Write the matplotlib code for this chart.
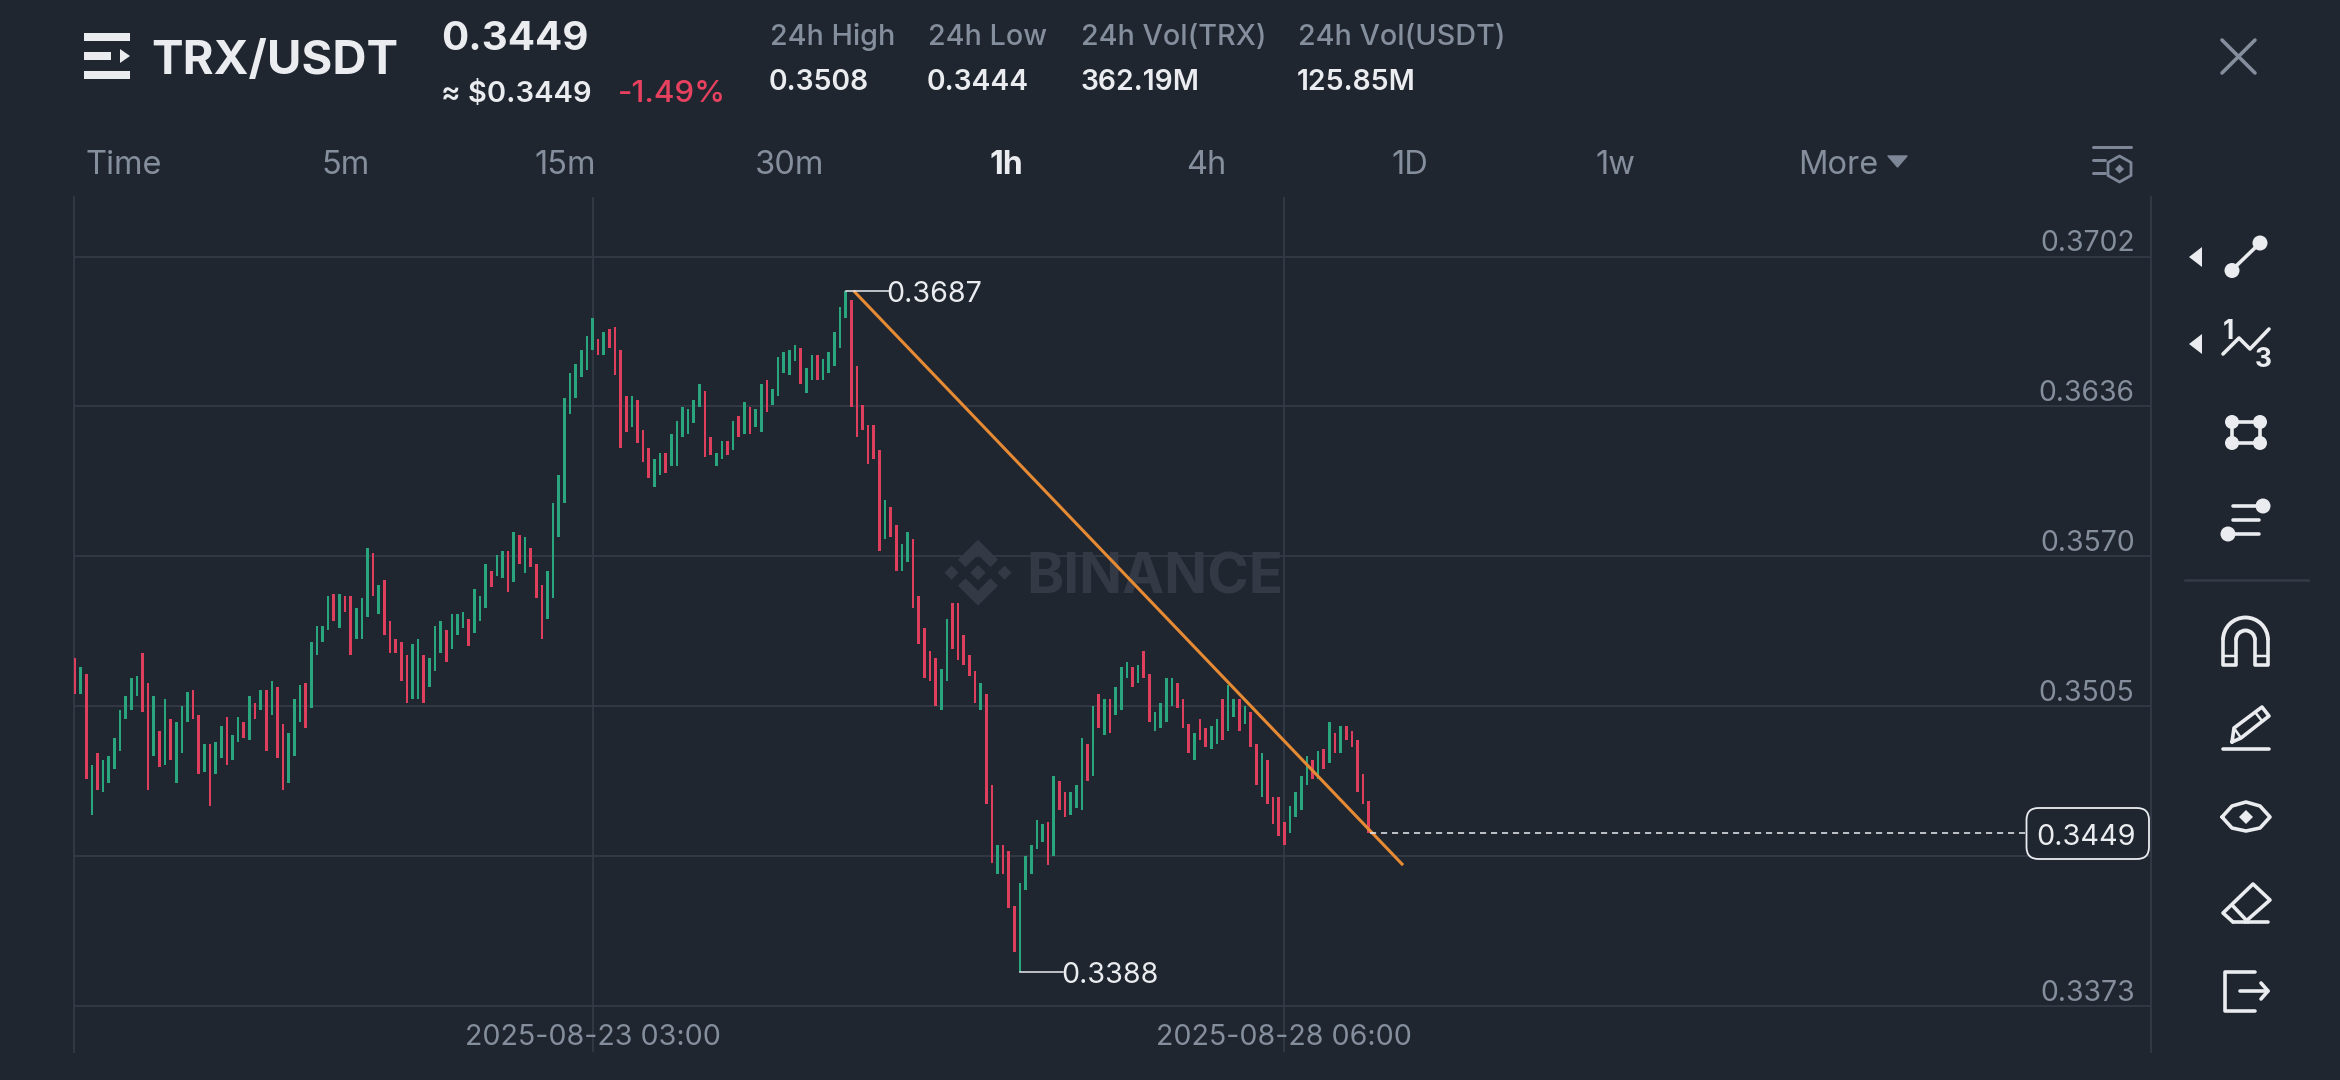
import matplotlib
matplotlib.use("Agg")
import matplotlib.pyplot as plt
from matplotlib.patches import Polygon, Circle, FancyBboxPatch, Rectangle, Arc

plt.rcParams['font.family'] = ['Inter', 'DejaVu Sans']

# ---- 1h TRX/USDT candles: high, low and direction (u = up, d = down) ----
highs = [
    0.3526,0.3522,0.3519,0.3479,0.3484,0.3481,0.3483,0.3491,0.3503,0.3509,
    0.3517,0.3518,0.3528,0.3515,0.3509,0.3494,0.3508,0.3499,0.3498,0.3505,
    0.3511,0.3512,0.3501,0.3488,0.3488,0.3489,0.3496,0.3500,0.3492,0.3500,
    0.3498,0.3509,0.3506,0.3512,0.3512,0.3516,0.3513,0.3497,0.3493,0.3508,
    0.3514,0.3515,0.3533,0.3540,0.3540,0.3553,0.3554,0.3554,0.3553,0.3553,
    0.3548,0.3552,0.3574,0.3572,0.3558,0.3560,0.3542,0.3534,0.3533,0.3527,
    0.3532,0.3534,0.3527,0.3526,0.3540,0.3542,0.3538,0.3545,0.3545,0.3546,
    0.3543,0.3556,0.3553,0.3567,0.3564,0.3571,0.3573,0.3573,0.3581,0.3580,
    0.3579,0.3574,0.3567,0.3558,0.3564,0.3594,0.3606,0.3640,0.3651,0.3655,
    0.3661,0.3667,0.3675,0.3666,0.3669,0.3670,0.3671,0.3661,0.3641,0.3641,
    0.3639,0.3626,0.3618,0.3613,0.3616,0.3616,0.3624,0.3630,0.3636,0.3635,
    0.3639,0.3646,0.3643,0.3623,0.3616,0.3621,0.3621,0.3630,0.3632,0.3638,
    0.3636,0.3635,0.3646,0.3648,0.3644,0.3658,0.3660,0.3661,0.3663,0.3662,
    0.3653,0.3659,0.3659,0.3657,0.3660,0.3669,0.3680,0.3687,0.3683,0.3654,
    0.3637,0.3628,0.3628,0.3617,0.3595,0.3592,0.3584,0.3576,0.3581,0.3578,
    0.3553,0.3539,0.3529,0.3526,0.3521,0.3543,0.3550,0.3550,0.3536,0.3527,
    0.3520,0.3515,0.3510,0.3470,0.3444,0.3444,0.3441,0.3417,0.3427,0.3439,
    0.3444,0.3455,0.3453,0.3454,0.3474,0.3472,0.3467,0.3467,0.3470,0.3491,
    0.3488,0.3505,0.3510,0.3508,0.3508,0.3513,0.3522,0.3524,0.3522,0.3523,
    0.3529,0.3519,0.3502,0.3506,0.3517,0.3517,0.3515,0.3508,0.3497,0.3493,
    0.3499,0.3495,0.3496,0.3499,0.3508,0.3514,0.3508,0.3508,0.3505,0.3502,
    0.3488,0.3484,0.3481,0.3465,0.3465,0.3454,0.3461,0.3467,0.3474,0.3483,
    0.3481,0.3485,0.3486,0.3498,0.3493,0.3496,0.3496,0.3494,0.3490,0.3475,
    0.3463,
]
lows = [
    0.3510,0.3510,0.3473,0.3457,0.3468,0.3467,0.3471,0.3477,0.3485,0.3499,
    0.3503,0.3509,0.3502,0.3468,0.3483,0.3478,0.3479,0.3481,0.3471,0.3484,
    0.3498,0.3499,0.3475,0.3476,0.3461,0.3475,0.3482,0.3479,0.3481,0.3489,
    0.3491,0.3490,0.3499,0.3503,0.3485,0.3501,0.3482,0.3468,0.3471,0.3483,
    0.3498,0.3495,0.3504,0.3527,0.3533,0.3538,0.3542,0.3539,0.3546,0.3527,
    0.3534,0.3534,0.3544,0.3553,0.3545,0.3536,0.3528,0.3528,0.3516,0.3506,
    0.3508,0.3508,0.3506,0.3513,0.3520,0.3528,0.3524,0.3530,0.3536,0.3539,
    0.3531,0.3537,0.3542,0.3548,0.3557,0.3562,0.3561,0.3555,0.3559,0.3567,
    0.3563,0.3566,0.3552,0.3534,0.3543,0.3552,0.3579,0.3594,0.3633,0.3640,
    0.3649,0.3652,0.3661,0.3659,0.3659,0.3662,0.3650,0.3618,0.3625,0.3627,
    0.3620,0.3612,0.3605,0.3601,0.3606,0.3607,0.3610,0.3610,0.3623,0.3624,
    0.3629,0.3636,0.3614,0.3615,0.3610,0.3613,0.3615,0.3617,0.3623,0.3624,
    0.3624,0.3627,0.3625,0.3634,0.3637,0.3641,0.3651,0.3650,0.3656,0.3646,
    0.3642,0.3648,0.3648,0.3648,0.3651,0.3654,0.3662,0.3675,0.3636,0.3623,
    0.3626,0.3611,0.3613,0.3573,0.3578,0.3579,0.3564,0.3564,0.3568,0.3548,
    0.3532,0.3517,0.3516,0.3505,0.3503,0.3516,0.3530,0.3525,0.3523,0.3518,
    0.3506,0.3503,0.3462,0.3436,0.3431,0.3431,0.3416,0.3397,0.3388,0.3424,
    0.3431,0.3442,0.3445,0.3435,0.3439,0.3459,0.3456,0.3457,0.3460,0.3459,
    0.3472,0.3474,0.3495,0.3492,0.3493,0.3501,0.3503,0.3517,0.3513,0.3515,
    0.3517,0.3498,0.3494,0.3495,0.3498,0.3505,0.3504,0.3495,0.3484,0.3481,
    0.3490,0.3487,0.3486,0.3488,0.3490,0.3494,0.3500,0.3494,0.3497,0.3487,
    0.3470,0.3465,0.3462,0.3453,0.3448,0.3444,0.3449,0.3456,0.3459,0.3470,
    0.3473,0.3473,0.3477,0.3480,0.3484,0.3484,0.3490,0.3487,0.3467,0.3462,
    0.3449,
]
directions = (
    "dududuuuuu" "uuddududuu" "udduduuduu" "dudududduu" "uduuuududd"
    "uuududdddd" "uuduuuduuu" "duuuduudud" "uddduuuuuu" "uuududdddu"
    "ddduuduuuu" "uudduududu" "duuduuuuud" "uuduuuuudd" "ddddudduud"
    "dddduudddd" "dudduddduu" "uuududduuu" "dududuuudu" "dduuuudddu"
    "dduuduudud" "dudddduuuu" "dudududddd" "d"
)

# Price scale and time axis; the 0.3439 level sits behind the last-price tag
price_ticks = [0.37020, 0.36362, 0.35704, 0.35046, 0.34388, 0.33730]
price_tick_labels = ["0.3702", "0.3636", "0.3570", "0.3505", "", "0.3373"]
time_ticks = [92, 215]
time_tick_labels = ["2025-08-23 03:00", "2025-08-28 06:00"]

# Drawn trend line (candle position, price)
trend_x = [138.4, 236.1]
trend_y = [0.36870, 0.34350]
last_price = 0.3449

# Header figures
pair = "TRX/USDT"
change_text = "-1.49%"
stat_names = ["24h High", "24h Low", "24h Vol(TRX)", "24h Vol(USDT)"]
stat_values = ["0.3508", "0.3444", "362.19M", "125.85M"]
intervals = ["Time", "5m", "15m", "30m", "1h", "4h", "1D", "1w"]

BG = "#1F2630"
GRID = "#343B47"
MUTED = "#848E9C"
WHITE = "#EAECEF"
UP = "#2AA67F"
DOWN = "#DE3F5D"
ORANGE = "#E68A33"
MARK = "#333A46"

fig = plt.figure(figsize=(23.4, 10.8), dpi=100, facecolor=BG)


def px_axes(zorder):
    """Full-figure axes addressed in pixels, origin at the top left."""
    a = fig.add_axes([0, 0, 1, 1], zorder=zorder)
    a.set_xlim(0, 2340)
    a.set_ylim(1080, 0)
    a.axis("off")
    return a


back = px_axes(0)
ui = px_axes(2)

# Watermark behind the candles
cx, cy = 978, 572.7
for dx, half in ((-26.5, 7), (0, 7.7), (26.5, 7)):
    back.add_patch(Polygon([(cx + dx - half, cy), (cx + dx, cy - half), (cx + dx + half, cy), (cx + dx, cy + half)],
                           fc=MARK, ec="none"))
for s in (-1, 1):
    back.add_patch(Polygon([(cx, cy + s * 33), (cx + 20, cy + s * 13), (cx + 12.5, cy + s * 5.5), (cx, cy + s * 18),
                            (cx - 12.5, cy + s * 5.5), (cx - 20, cy + s * 13)], fc=MARK, ec="none"))
back.text(1026, 593, "BINANCE", color=MARK, fontsize=40.5, fontweight="bold", va="baseline", ha="left")

# Chart area
L, R, T, B = 73.5, 2150.5, 197, 1052
ax = fig.add_axes([L / 2340, 1 - B / 1080, (R - L) / 2340, (B - T) / 1080], zorder=1)
ax.patch.set_alpha(0)
STEP = 5.625
ax.set_xlim((L - 75) / STEP, (R - 75) / STEP)
PX_PER_PRICE = 150 / 0.00658
ax.set_ylim(0.3702 - (B - 256.5) / PX_PER_PRICE, 0.3702 + (256.5 - T) / PX_PER_PRICE)

for side in ("top", "bottom"):
    ax.spines[side].set_visible(False)
for side in ("left", "right"):
    ax.spines[side].set_color(GRID)
    ax.spines[side].set_linewidth(1.3)
ax.set_yticks(price_ticks)
ax.set_xticks(time_ticks)
ax.set_xticklabels([])
ax.set_yticklabels([])
ax.tick_params(length=0)
ax.grid(True, color=GRID, linewidth=1.3)
ax.set_axisbelow(True)

# Candles
idx = list(range(len(highs)))
colors = [UP if d == "u" else DOWN for d in directions]
ax.bar(idx, [h - l for h, l in zip(highs, lows)], bottom=lows, width=2.6 / STEP, color=colors, linewidth=0, zorder=3)

# Price and time labels
for tick, label in zip(price_ticks, price_tick_labels):
    if label:
        ax.annotate(label, xy=(1, tick), xycoords=("axes fraction", "data"), xytext=(-11.5, 4.0),
                    textcoords="offset points", ha="right", va="baseline", color=MUTED, fontsize=20.4)
for tick, label in zip(time_ticks, time_tick_labels):
    ax.annotate(label, xy=(tick, 0), xycoords=("data", "axes fraction"), xytext=(0, 4.8),
                textcoords="offset points", ha="center", va="baseline", color=MUTED, fontsize=20.6)

# Trend line, extremes and last price
ax.plot(trend_x, trend_y, color=ORANGE, linewidth=2.2, zorder=4, solid_capstyle="butt")

LEADER = 43 / STEP
for i, value in ((highs.index(max(highs)), max(highs)), (lows.index(min(lows)), min(lows))):
    ax.plot([i, i + LEADER], [value, value], color=WHITE, linewidth=1.1, zorder=5)
    ax.annotate(f"{value:.4f}", xy=(i + LEADER, value), xytext=(-1.5, -7.9), textcoords="offset points",
                color=WHITE, fontsize=20.6, va="baseline", ha="left", zorder=5)

n_last = len(highs) - 1
ax.plot([n_last + 0.2, (2026 - 75) / STEP], [last_price, last_price], color=WHITE, linewidth=1.1,
        dashes=(4, 3.2), zorder=4)
ui.add_patch(FancyBboxPatch((2026.5, 808), 122.5, 51, boxstyle="round,pad=0,rounding_size=12",
                            fc=(*matplotlib.colors.to_rgb(BG), 0.88), ec=WHITE, lw=1.3))
ui.text(2136, 845, f"{last_price:.4f}", color=WHITE, fontsize=20.8, ha="right", va="baseline")


def txt(x, y, s, color=WHITE, size=20, weight="normal", ha="left"):
    ui.text(x, y, s, color=color, fontsize=size, fontweight=weight, ha=ha, va="baseline")


def stroke(xs, ys, color=WHITE, lw=3.6, **kw):
    ui.plot(xs, ys, color=color, linewidth=lw * 0.72, solid_capstyle="round", solid_joinstyle="round", **kw)


def dot(x, y, r=7.5, color=WHITE):
    ui.add_patch(Circle((x, y), r, fc=color, ec="none"))


# Header
for y0, y1 in ((33, 41), (71, 79)):
    ui.add_patch(Rectangle((84, y0), 46, y1 - y0, fc=WHITE, ec="none"))
ui.add_patch(Rectangle((84, 52), 27, 8, fc=WHITE, ec="none"))
ui.add_patch(Polygon([(120, 49), (130, 56), (120, 63)], fc=WHITE, ec="none"))
txt(151, 74, pair, size=34, weight="bold")
txt(441, 50, f"{last_price:.4f}", size=29, weight="bold")
txt(441, 102, f"≈ ${last_price:.4f}", size=21, weight="semibold")
txt(618, 102, change_text, color="#E8415F", size=22.5, weight="medium")

for x, name, value in zip((770, 928, 1081, 1298), stat_names, stat_values):
    txt(x, 45, name, color=MUTED, size=20.7, weight="medium")
    txt(x - 1, 90, value, size=20.4, weight="semibold")

stroke([2222, 2255], [40, 73], color=MUTED)
stroke([2222, 2255], [73, 40], color=MUTED)

# Interval selector
for x, label in zip((124, 346, 565, 790, 1006, 1206, 1410, 1615), intervals):
    if label == "1h":
        txt(x, 174.5, label, size=23, weight="bold", ha="center")
    else:
        txt(x, 174.5, label, color=MUTED, size=23.5, ha="center")
txt(1798, 174.5, "More", color=MUTED, size=23.5)
ui.add_patch(Polygon([(1888, 156), (1907, 156), (1897.5, 167)], fc="#7E8798", ec="#7E8798", lw=1, joinstyle="round"))

SETTINGS = "#7E8798"
stroke([2093, 2131], [147, 147], color=SETTINGS, lw=3)
stroke([2093, 2105], [160, 160], color=SETTINGS, lw=3)
stroke([2093, 2105], [173, 173], color=SETTINGS, lw=3)
ui.add_patch(Polygon([(2119.5, 156), (2131, 162.5), (2131, 175.5), (2119.5, 182), (2108, 175.5), (2108, 162.5)],
                     fc="none", ec=SETTINGS, lw=2.0, joinstyle="round"))
ui.add_patch(Polygon([(2115, 169), (2119.5, 164.5), (2124, 169), (2119.5, 173.5)], fc=SETTINGS, ec="none"))

# Drawing toolbar
for y in (257, 344):
    ui.add_patch(Polygon([(2202, y - 10), (2202, y + 10), (2189, y)], fc=WHITE, ec="none"))

stroke([2232, 2260], [270, 243])
dot(2232, 270.5)
dot(2260, 243)

stroke([2223, 2239, 2250, 2269], [354, 338, 349, 329])
txt(2228, 339, "1", size=19, weight="bold", ha="center")
txt(2263, 367, "3", size=19, weight="bold", ha="center")

stroke([2232, 2260, 2260, 2232, 2232], [422, 422, 443, 443, 422])
for x, y in ((2232, 422), (2260, 422), (2232, 443), (2260, 443)):
    dot(x, y, 7)

stroke([2233, 2260], [506, 506])
dot(2263, 506)
stroke([2233, 2259], [520, 520])
stroke([2230, 2259], [534, 534])
dot(2228, 534)

ui.plot([2185, 2308], [580, 580], color=GRID, linewidth=1.8)

# Magnet
ui.add_patch(Arc((2245.5, 640), 45, 45, theta1=180, theta2=360, ec=WHITE, lw=2.8))
ui.add_patch(Arc((2245.5, 640), 19, 19, theta1=180, theta2=360, ec=WHITE, lw=2.8))
stroke([2223, 2223, 2236, 2236], [640, 665, 665, 640])
stroke([2268, 2268, 2255, 2255], [640, 665, 665, 640])
stroke([2223, 2236], [656, 656], lw=2.5)
stroke([2255, 2268], [656, 656], lw=2.5)

# Pencil
stroke([2232, 2234, 2262, 2269, 2241, 2232], [742, 728, 707, 716, 738, 742])
stroke([2234, 2241], [728, 738], lw=2.5)
stroke([2255, 2262], [712, 721], lw=2.5)
stroke([2223, 2269], [749, 749])

# Eye
stroke([2222, 2232, 2246, 2260, 2270, 2260, 2246, 2232, 2222], [817, 806, 802, 806, 817, 828, 831, 828, 817])
ui.add_patch(Polygon([(2239, 817), (2246, 810), (2253, 817), (2246, 824)], fc=WHITE, ec="none"))

# Eraser
stroke([2233, 2223, 2253, 2270, 2245], [922, 913, 884, 900, 922])
stroke([2233, 2268], [922, 922])
stroke([2233, 2248], [906, 922])

# Exit
stroke([2255, 2225, 2225, 2255], [972, 972, 1011, 1011])
stroke([2240, 2268], [991, 991])
stroke([2261, 2268, 2261], [983, 991, 999])

fig.savefig("out.png", dpi=100, facecolor=BG)
